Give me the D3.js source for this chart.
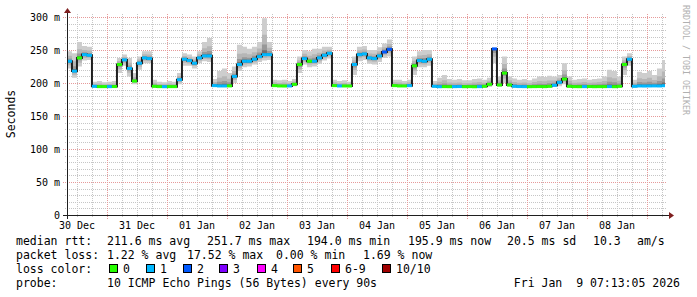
<!DOCTYPE html>
<html>
<head>
<meta charset="utf-8">
<script src="https://cdn.jsdelivr.net/npm/d3@7"></script>
<style>
  html, body { margin: 0; padding: 0; background: #fff; }
  svg { display: block; font-family: "DejaVu Sans Mono", monospace; }
  text { white-space: pre; }
</style>
</head>
<body>
<svg id="chart" width="697" height="297"></svg>
<script>
// 2-hour samples, first one at 30 Dec 08:00 (UTC)
const median = [
  233, 218, 238, 243, 242, 195, 194.5, 194.5, 194.5, 194.6,
  228, 235, 222, 203, 230, 238, 237, 195, 194.5, 194.4,
  194.5, 194.5, 205, 236, 234, 230, 238, 241, 241, 196,
  195.5, 195.5, 195.6, 210, 228, 233, 233, 236, 240, 243,
  243, 196, 195.5, 195.4, 195.5, 198, 228, 237, 233, 233,
  238, 242, 245, 196, 195.5, 195.5, 195.4, 228, 243, 244,
  238, 237, 241, 247, 251, 196, 195.5, 195.5, 196, 226,
  234, 233, 236, 195, 194.4, 194.5, 194.4, 194.5, 194.6, 194.4,
  194.5, 194.3, 194.5, 195, 198, 251.7, 197, 215, 197, 195,
  194.6, 194.5, 194.4, 194.5, 194.6, 194.5, 195, 196.5, 201, 206,
  195, 194.5, 194.4, 194.5, 194.6, 194.4, 194.5, 194.5, 194.6, 194.4,
  195, 228, 236, 195, 195.5, 195.4, 195.5, 195.6, 195.5, 195.9
];
const smokeHi = [
  248, 245, 262, 256, 255, 202, 203, 201, 202, 203,
  238, 243, 238, 215, 240, 248, 248, 205, 202, 201,
  203, 202, 215, 245, 243, 240, 248, 262, 268, 206,
  218, 222, 215, 225, 258, 255, 252, 255, 262, 298,
  262, 205, 204, 205, 203, 206, 240, 250, 248, 252,
  252, 255, 255, 205, 203, 204, 202, 240, 255, 256,
  250, 250, 254, 260, 266, 205, 205, 203, 205, 240,
  248, 250, 250, 203, 208, 212, 206, 205, 206, 204,
  204, 206, 207, 205, 208, 253, 210, 240, 210, 207,
  205, 206, 204, 207, 210, 209, 211, 210, 212, 230,
  210, 205, 206, 207, 205, 206, 207, 210, 220, 218,
  210, 240, 245, 205, 217, 215, 218, 212, 222, 235
];
const smokeLo = [
  222, 208, 225, 234, 235, 193.5, 193.8, 193.9, 193.8, 193.9,
  215, 226, 210, 198, 220, 230, 230, 194, 193.8, 193.8,
  193.9, 193.8, 198, 226, 226, 222, 230, 233, 232, 194.5,
  194.5, 194.6, 194.5, 200, 218, 224, 225, 228, 232, 234,
  235, 194.5, 194.5, 194.6, 194.5, 195, 215, 228, 224, 225,
  229, 234, 237, 194.5, 194.6, 194.5, 194.6, 212, 233, 235,
  229, 228, 232, 238, 240, 194.5, 194.6, 194.5, 194.8, 212,
  224, 224, 226, 193.8, 193.9, 193.8, 193.8, 193.9, 193.8, 193.8,
  193.9, 193.8, 193.8, 194, 194, 230, 194, 200, 194, 193.8,
  193.8, 193.9, 193.8, 193.8, 193.9, 193.8, 194, 194.5, 195, 198,
  193.8, 193.9, 193.8, 193.8, 193.9, 193.8, 193.8, 193.9, 193.8, 193.8,
  194, 212, 226, 194, 194.5, 194.5, 194.6, 194.5, 194.6, 194.8
];
// index into lossColors
const lossBucket = [
  1, 1, 0, 1, 1, 1, 0, 0, 1, 0,
  0, 1, 1, 0, 1, 1, 1, 0, 0, 1,
  0, 0, 1, 1, 1, 1, 1, 1, 1, 1,
  1, 1, 0, 1, 1, 1, 1, 1, 1, 1,
  1, 0, 0, 0, 1, 0, 0, 1, 0, 1,
  1, 1, 1, 0, 1, 0, 0, 1, 1, 1,
  1, 1, 1, 2, 2, 0, 0, 0, 1, 0,
  1, 1, 1, 1, 1, 0, 0, 1, 1, 0,
  0, 0, 1, 0, 0, 2, 0, 0, 0, 1,
  1, 1, 0, 0, 0, 0, 0, 1, 1, 0,
  0, 0, 0, 1, 0, 0, 0, 0, 1, 0,
  0, 0, 1, 1, 1, 1, 1, 1, 1, 1
];

const yTicks = [0, 50, 100, 150, 200, 250, 300];
const dayLabels = ['30 Dec', '31 Dec', '01 Jan', '02 Jan', '03 Jan',
                   '04 Jan', '05 Jan', '06 Jan', '07 Jan', '08 Jan'];
const lossColors = ['#26ff00', '#00b8ff', '#0059ff', '#7e00ff',
                    '#ff00ff', '#ff5500', '#ff0000', '#a00000'];
const lossLabels = ['0', '1', '2', '3', '4', '5', '6-9', '10/10'];
const rttStats = ['211.6 ms avg', '251.7 ms max', '194.0 ms min',
                  '195.9 ms now', '20.5 ms sd', '10.3', 'am/s'];
const lossStats = ['1.22 % avg', '17.52 % max', '0.00 % min', '1.69 % now'];
const probeText = '10 ICMP Echo Pings (56 Bytes) every 90s';
const stampText = 'Fri Jan  9 07:13:05 2026';

const svg = d3.select('#chart');
svg.append('rect').attr('width', 697).attr('height', 297).attr('fill', '#fff');

const firstSample = Date.UTC(2025, 11, 30, 8, 0, 0);
const step = 2 * 3600 * 1000;
const tStart = new Date(Date.UTC(2025, 11, 30, 8, 1, 5));
const tEnd = new Date(Date.UTC(2026, 0, 9, 7, 13, 5));

// plot area
const plotL = 67, plotR = 665, plotB = 215, plotT = 17;

const x = d3.scaleUtc().domain([tStart, tEnd]).range([plotL, plotR]);
const y = d3.scaleLinear().domain([0, 300]).range([plotB, plotT]);
const px = (v) => Math.round(v) + 0.5;

// grid
const grid = svg.append('g');
d3.range(0, 301, 10).filter((v) => v % 50 !== 0).forEach((v) => {
  grid.append('line')
    .attr('x1', plotL - 2).attr('x2', plotR + 2)
    .attr('y1', px(y(v))).attr('y2', px(y(v)))
    .attr('stroke', '#c6c6c6').attr('stroke-dasharray', '1,1');
});
d3.utcHour.every(6).range(tStart, tEnd)
  .filter((t) => t.getUTCHours() !== 0)
  .forEach((t) => {
    grid.append('line')
      .attr('x1', px(x(t))).attr('x2', px(x(t)))
      .attr('y1', plotT - 3).attr('y2', plotB + 2)
      .attr('stroke', '#c6c6c6').attr('stroke-dasharray', '1,1');
  });
yTicks.forEach((v) => {
  grid.append('line')
    .attr('x1', plotL - 4).attr('x2', plotR + 2)
    .attr('y1', px(y(v))).attr('y2', px(y(v)))
    .attr('stroke', '#e69a9a').attr('stroke-dasharray', '1,1');
});
d3.utcDay.range(tStart, tEnd).forEach((t) => {
  grid.append('line')
    .attr('x1', px(x(t))).attr('x2', px(x(t)))
    .attr('y1', plotT - 3).attr('y2', plotB + 4)
    .attr('stroke', '#e69a9a').attr('stroke-dasharray', '1,1');
});

// data
const pts = median.map((m, i) => ({
  t: new Date(firstSample + i * step),
  m, hi: smokeHi[i], lo: smokeLo[i], loss: lossBucket[i],
}));
const last = pts[pts.length - 1];
const stepPts = pts.concat([{ ...last, t: new Date(+last.t + step) }]);

svg.append('clipPath').attr('id', 'plot')
  .append('rect').attr('x', plotL).attr('y', 5)
  .attr('width', plotR - plotL).attr('height', plotB - 5);

const plot = svg.append('g').attr('clip-path', 'url(#plot)');

// smoke, outer band lightest
const smokeLayers = [
  [1.0, '#cdcdcd'],
  [0.55, '#b6b6b6'],
  [0.28, '#989898'],
  [0.12, '#6e6e6e'],
];
smokeLayers.forEach(([f, col]) => {
  const area = d3.area()
    .curve(d3.curveStepAfter)
    .x((d) => x(d.t))
    .y0((d) => y(d.m - f * (d.m - d.lo)))
    .y1((d) => y(d.m + f * (d.hi - d.m)));
  plot.append('path').datum(stepPts).attr('d', area).attr('fill', col);
});

// median line
const medLine = d3.line().curve(d3.curveStepAfter)
  .x((d) => x(d.t)).y((d) => y(d.m));
plot.append('path').datum(stepPts).attr('d', medLine)
  .attr('fill', 'none').attr('stroke', '#202020').attr('stroke-width', 2);

plot.selectAll('.med')
  .data(pts)
  .enter()
  .append('line')
  .attr('class', 'med')
  .attr('x1', (d) => x(d.t))
  .attr('x2', (d) => x(new Date(+d.t + step)))
  .attr('y1', (d) => y(d.m))
  .attr('y2', (d) => y(d.m))
  .attr('stroke', (d) => lossColors[d.loss])
  .attr('stroke-width', 3);

// axes
svg.append('line')
  .attr('x1', plotL - 4).attr('x2', plotR + 4)
  .attr('y1', plotB + 0.5).attr('y2', plotB + 0.5)
  .attr('stroke', '#1f1f1f');
svg.append('line')
  .attr('x1', plotL + 0.5).attr('x2', plotL + 0.5)
  .attr('y1', plotB + 4).attr('y2', plotT - 4)
  .attr('stroke', '#1f1f1f');
svg.append('path')
  .attr('d', `M${plotR + 4},${plotB - 3}L${plotR + 9},${plotB + 0.5}L${plotR + 4},${plotB + 4}Z`)
  .attr('fill', '#7f1f1f');
svg.append('path')
  .attr('d', `M${plotL - 3},${plotT - 4}L${plotL + 0.5},${plotT - 9}L${plotL + 4},${plotT - 4}Z`)
  .attr('fill', '#7f1f1f');

// tick labels
svg.selectAll('.ylab')
  .data(yTicks)
  .enter()
  .append('text')
  .attr('x', 60)
  .attr('y', (d) => Math.round(y(d)) + 4)
  .attr('text-anchor', 'end')
  .attr('font-size', '10px')
  .text((d) => (d === 0 ? '0' : `${d} m`));

svg.selectAll('.xlab')
  .data(dayLabels)
  .enter()
  .append('text')
  .attr('x', (d, i) => x(new Date(Date.UTC(2025, 11, 30 + i, 12))))
  .attr('y', 229)
  .attr('text-anchor', 'middle')
  .attr('font-size', '10px')
  .text((d) => d);

svg.append('text')
  .attr('transform', 'translate(15,114) rotate(-90)')
  .attr('text-anchor', 'middle')
  .attr('font-size', '11.5px')
  .text('Seconds');

svg.append('text')
  .attr('transform', 'translate(683,5) rotate(90)')
  .attr('font-size', '8.3px')
  .attr('fill', '#b0b0b0')
  .text('RRDTOOL / TOBI OETIKER');

// legend
const lg = svg.append('g').attr('font-size', '11.5px').attr('fill', '#000');
const row = (yy, items) => items.forEach(([xx, t]) => {
  lg.append('text').attr('x', xx).attr('y', yy).text(t);
});
row(245, [[16, 'median rtt:']].concat(
  rttStats.map((s, i) => [[107, 207, 307, 408, 507, 593, 637][i], s])));
row(259, [[16, 'packet loss:']].concat(
  lossStats.map((s, i) => [[107, 187, 276, 363][i], s])));
row(273, [[16, 'loss color:']]);
const swX = [109, 146, 183, 219, 257, 293, 331, 382];
lossColors.forEach((c, i) => {
  lg.append('rect')
    .attr('x', swX[i] + 0.5).attr('y', 264.5)
    .attr('width', 8).attr('height', 8)
    .attr('fill', c).attr('stroke', '#000');
  lg.append('text').attr('x', swX[i] + 14).attr('y', 273).text(lossLabels[i]);
});
row(287, [[16, 'probe:'], [107, probeText]]);
lg.append('text').attr('x', 680).attr('y', 287)
  .attr('text-anchor', 'end').text(stampText);
</script>
</body>
</html>
